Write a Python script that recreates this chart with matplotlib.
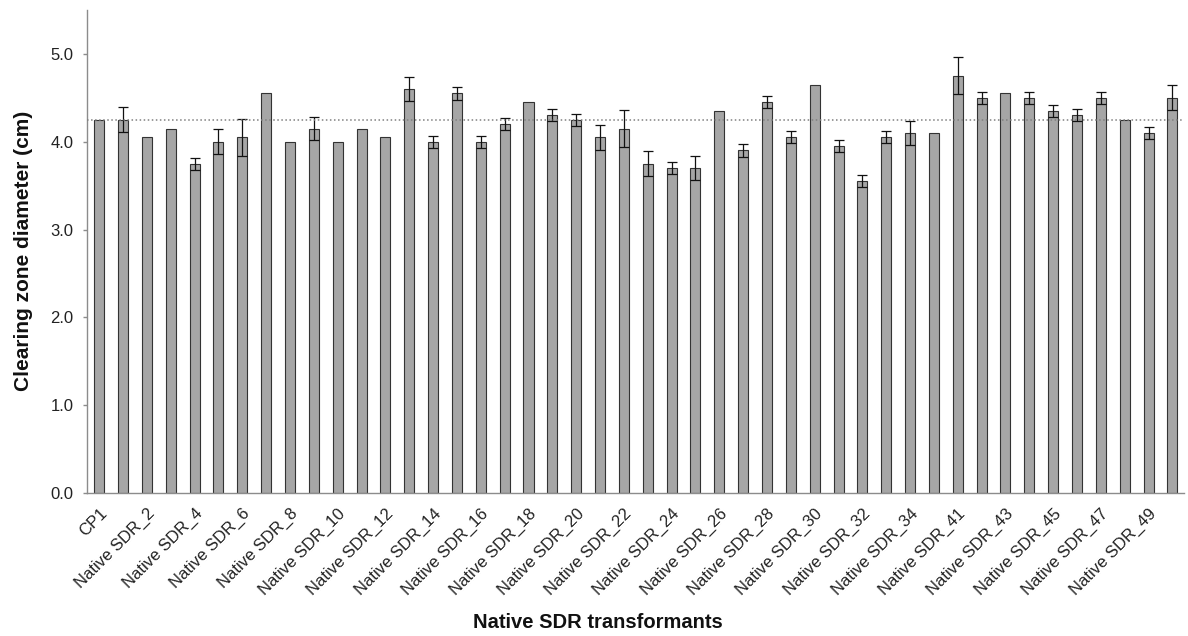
import matplotlib
matplotlib.use("Agg")
import matplotlib.pyplot as plt
import numpy as np

plt.rcParams["font.family"] = ["Liberation Sans", "DejaVu Sans"]

# strain names: control first, then the native SDR transformants
strains = (["CP1"]
           + [f"Native SDR_{i}" for i in range(1, 36)]
           + [f"Native SDR_{i}" for i in range(41, 51)])

# mean clearing zone diameter (cm)
diameters = [
    4.25, 4.25, 4.05, 4.15, 3.75, 4.00, 4.05, 4.55, 4.00, 4.15,
    4.00, 4.15, 4.05, 4.60, 4.00, 4.55, 4.00, 4.20, 4.45, 4.30,
    4.25, 4.05, 4.15, 3.75, 3.70, 3.70, 4.35, 3.90, 4.45, 4.05,
    4.65, 3.95, 3.55, 4.05, 4.10, 4.10, 4.75, 4.50, 4.55, 4.50,
    4.35, 4.30, 4.50, 4.25, 4.10, 4.50,
]

# error (cm), 0 where no bar was drawn
errors = [
    0.00, 0.14, 0.00, 0.00, 0.07, 0.14, 0.21, 0.00, 0.00, 0.13,
    0.00, 0.00, 0.00, 0.14, 0.07, 0.07, 0.07, 0.07, 0.00, 0.07,
    0.07, 0.14, 0.21, 0.14, 0.07, 0.14, 0.00, 0.07, 0.07, 0.07,
    0.00, 0.07, 0.07, 0.07, 0.14, 0.00, 0.21, 0.07, 0.00, 0.07,
    0.07, 0.07, 0.07, 0.00, 0.07, 0.14,
]

control_value = diameters[0]

fig = plt.figure(figsize=(11.88, 6.36), dpi=100)
ax = fig.add_axes([0.0735, 0.2244, 0.9234, 0.7601])

x = np.arange(len(strains))
yerr = np.array(errors)
ax.bar(x, diameters, width=0.42, color="#a6a6a6", edgecolor="#333333",
       linewidth=0.8, zorder=2)

# only draw whiskers where there is a spread
has_err = yerr > 0
ax.errorbar(x[has_err], np.array(diameters)[has_err], yerr=yerr[has_err],
            fmt="none", ecolor="#111111", elinewidth=0.9, capsize=3.5,
            capthick=0.9, zorder=3)

ax.axhline(control_value, color="#808080", linestyle=":", linewidth=1.1,
           zorder=4)

ax.set_xlim(-0.5, len(strains) - 0.5)
ax.set_ylim(0, 5.5)
ax.set_yticks(np.arange(0, 5.01, 1.0))
ax.set_yticklabels([f"{v:.1f}" for v in np.arange(0, 5.01, 1.0)])

ax.set_xticks(x[::2])
ax.set_xticklabels(strains[::2], rotation=45, ha="right",
                   rotation_mode="anchor")

for side in ("top", "right"):
    ax.spines[side].set_visible(False)
for side in ("left", "bottom"):
    ax.spines[side].set_color("#8c8c8c")
    ax.spines[side].set_linewidth(1.0)

ax.tick_params(axis="x", length=0, pad=9, labelsize=12, labelcolor="#222222")
ax.tick_params(axis="y", length=3, width=1.0, color="#8c8c8c", pad=7,
               labelsize=12, labelcolor="#222222")

ax.set_ylabel("Clearing zone diameter (cm)", fontsize=15, fontweight="bold",
              color="#111111")
ax.set_xlabel("Native SDR transformants", fontsize=14.5, fontweight="bold",
              color="#111111")
ax.yaxis.set_label_coords(-0.0586, 0.502)
ax.xaxis.set_label_coords(0.4655, -0.268)
ax.xaxis.label.set_va("center")
ax.yaxis.label.set_va("center")

fig.savefig("out.png", dpi=100)
